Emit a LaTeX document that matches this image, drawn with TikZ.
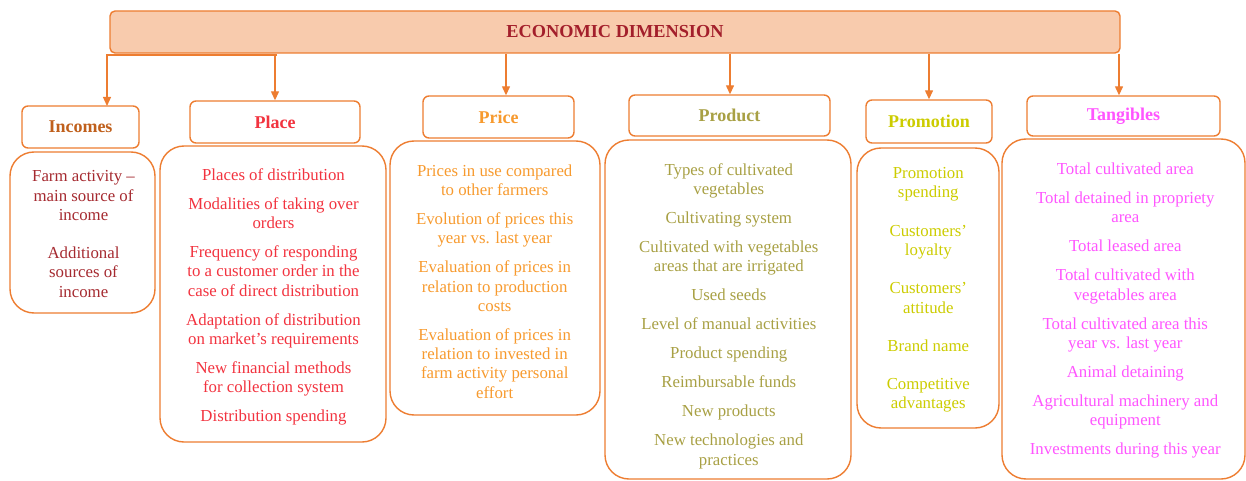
\documentclass[tikz,border=0pt]{standalone}
\usepackage{fontspec}
\setmainfont{Liberation Serif}
\usetikzlibrary{arrows.meta}

\definecolor{edge}{HTML}{ED7D31}
\definecolor{bannerfill}{HTML}{F8CBAD}
\definecolor{bannertext}{HTML}{A31F2B}
\definecolor{incH}{HTML}{C0601C}
\definecolor{incB}{HTML}{A52A30}
\definecolor{placeC}{HTML}{F2333F}
\definecolor{priceC}{HTML}{F79A2E}
\definecolor{prodC}{HTML}{A8A044}
\definecolor{promoC}{HTML}{CCCC00}
\definecolor{tangC}{HTML}{FF55FF}

\tikzset{
  banner/.style={draw=edge, fill=bannerfill, line width=1.4pt, rounded corners=5pt,
    font=\fontsize{18.3}{20}\selectfont\bfseries, text=bannertext, inner sep=0pt},
  headbox/.style={draw=edge, fill=white, line width=1.4pt, rounded corners=6pt,
    font=\fontsize{18}{20}\selectfont\bfseries, inner sep=0pt},
  listbox/.style={draw=edge, line width=1.4pt, rounded corners=24pt, inner sep=0pt},
  listtext/.style={align=center, inner sep=0pt,
    font=\fontsize{16.8}{19.3}\selectfont},
  conn/.style={draw=edge, line width=1.3pt},
  arr/.style={conn, -{Triangle[length=9pt,width=8pt]}}
}

\begin{document}
\begin{tikzpicture}[x=1pt, y=-1pt]
\useasboundingbox (0,0) rectangle (1246,481);

% top banner
\node[banner, minimum width=1010pt, minimum height=42pt] (banner) at (615,32) {ECONOMIC DIMENSION};

% category headers
\node[headbox, text=incH,   minimum width=117pt, minimum height=42pt] (incH)   at (80.5,127)   {Incomes};
\node[headbox, text=placeC, minimum width=170pt, minimum height=42pt] (placeH) at (275,122)    {Place};
\node[headbox, text=priceC, minimum width=151pt, minimum height=42pt] (priceH) at (498.5,117)  {Price};
\node[headbox, text=prodC,  minimum width=201pt, minimum height=41pt] (prodH)  at (729.5,115.5){Product};
\node[headbox, text=promoC, minimum width=126pt, minimum height=43pt] (promoH) at (929,121.5)  {Promotion};
\node[headbox, text=tangC,  minimum width=193pt, minimum height=40pt] (tangH)  at (1123.5,116) {Tangibles};

% item boxes
\node[listbox, minimum width=145pt, minimum height=161pt] (incL)   at (82.5,232.5) {};
\node[listbox, minimum width=226pt, minimum height=296pt] (placeL) at (273,294)    {};
\node[listbox, minimum width=210pt, minimum height=274pt] (priceL) at (495,278)    {};
\node[listbox, minimum width=246pt, minimum height=339pt] (prodL)  at (728,309.5)  {};
\node[listbox, minimum width=142pt, minimum height=280pt] (promoL) at (928,288)    {};
\node[listbox, minimum width=243pt, minimum height=340pt] (tangL)  at (1123.5,309) {};

% item texts
\node[listtext, text=incB] (incT) at (83.5,234) {Farm activity –\\ main source of\\ income\\[19pt]
  Additional\\ sources of\\ income};
\node[listtext, text=placeC] (placeT) at (273.5,297) {Places of distribution\\[9.7pt]
  Modalities of taking over\\ orders\\[9.7pt]
  Frequency of responding\\ to a customer order in the\\ case of direct distribution\\[9.7pt]
  Adaptation of distribution\\ on market’s requirements\\[9.7pt]
  New financial methods\\ for collection system\\[9.7pt]
  Distribution spending};
\node[listtext, text=priceC] (priceT) at (494.7,281.5) {Prices in use compared\\ to other farmers\\[9.7pt]
  Evolution of prices this\\ year vs. last year\\[9.7pt]
  Evaluation of prices in\\ relation to production\\ costs\\[9.7pt]
  Evaluation of prices in\\ relation to invested in\\ farm activity personal\\ effort};
\node[listtext, text=prodC] (prodT) at (728.8,316) {Types of cultivated\\ vegetables\\[9.7pt]
  Cultivating system\\[9.7pt]
  Cultivated with vegetables\\ areas that are irrigated\\[9.7pt]
  Used seeds\\[9.7pt]
  Level of manual activities\\[9.7pt]
  Product spending\\[9.7pt]
  Reimbursable funds\\[9.7pt]
  New products\\[9.7pt]
  New technologies and\\ practices};
\node[listtext, text=promoC] (promoT) at (928.3,290) {Promotion\\ spending\\[19pt]
  Customers’\\ loyalty\\[19pt]
  Customers’\\ attitude\\[19pt]
  Brand name\\[19pt]
  Competitive\\ advantages};
\node[listtext, text=tangC] (tangT) at (1125.3,310.5) {Total cultivated area\\[9.7pt]
  Total detained in propriety\\ area\\[9.7pt]
  Total leased area\\[9.7pt]
  Total cultivated with\\ vegetables area\\[9.7pt]
  Total cultivated area this\\ year vs. last year\\[9.7pt]
  Animal detaining\\[9.7pt]
  Agricultural machinery and\\ equipment\\[9.7pt]
  Investments during this year};

% connectors from the banner
\coordinate (incJ)   at (277,55);
\coordinate (incTip) at (107,106);
\coordinate (priceTip) at ([xshift=7.5pt]priceH.north);
\coordinate (prodTip)  at ([xshift=0.5pt]prodH.north);
\coordinate (tangTip)  at ([xshift=-4.5pt]tangH.north);

\draw[arr] (incJ) -| (incTip);
\draw[arr] (banner.south -| placeH.north) -- (placeH.north);
\draw[arr] (banner.south -| priceTip) -- (priceTip);
\draw[arr] (banner.south -| prodTip) -- (prodTip);
\draw[arr] (banner.south -| promoH.north) -- (promoH.north);
\draw[arr] (banner.south -| tangTip) -- (tangTip);
\end{tikzpicture}
\end{document}
